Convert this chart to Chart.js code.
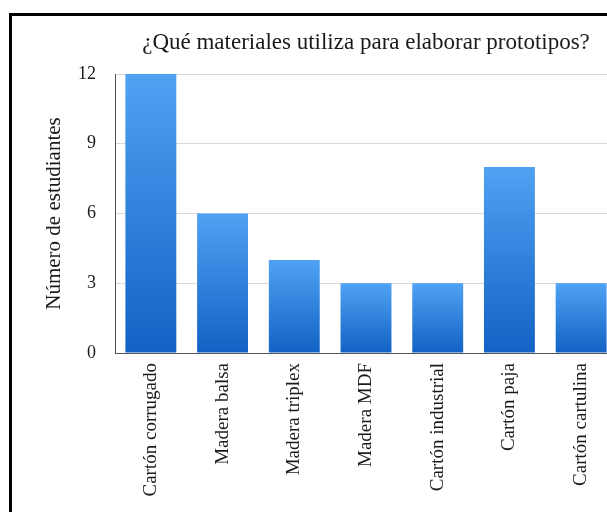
<!DOCTYPE html>
<html lang="es">
<head>
<meta charset="utf-8">
<title>Materiales para prototipos</title>
<script src="https://cdn.jsdelivr.net/npm/chart.js@4/dist/chart.umd.min.js"></script>
<style>
    html, body { margin: 0; padding: 0; background: #fff; overflow: hidden; }
    body { width: 607px; height: 512px; position: relative; }
    /* marco negro: solo borde superior e izquierdo */
    #marco {
        position: absolute; left: 9px; top: 13px; right: -20px; bottom: -20px;
        border-left: 3px solid #000; border-top: 3px solid #000;
    }
    #wrap { position: absolute; left: 12px; top: 16px; width: 605px; height: 496px; }
</style>
</head>
<body>
<div id="marco"></div>
<div id="wrap"><canvas id="materialesChart"></canvas></div>
<script>
// datos de la encuesta
const categorias = ['Cartón corrugado', 'Madera balsa', 'Madera triplex', 'Madera MDF', 'Cartón industrial', 'Cartón paja', 'Cartón cartulina'];
const estudiantes = [12, 6, 4, 3, 3, 8, 3];
const ticksY = [0, 3, 6, 9, 12];

const titulo = '¿Qué materiales utiliza para elaborar prototipos?';
const tituloEje = 'Número de estudiantes';

const serif = "'Liberation Serif', 'DejaVu Serif', serif";
const azulClaro = '#4fa2f3';
const azulOscuro = '#1262c4';

// degradado vertical propio de cada barra (claro arriba, oscuro abajo)
function degradadoBarra(ctx) {
    const chart = ctx.chart;
    const y = chart.scales.y;
    if (!chart.chartArea || !y || ctx.raw == null) return azulClaro;
    const top = y.getPixelForValue(ctx.raw);
    const bottom = y.getPixelForValue(0);
    const g = chart.ctx.createLinearGradient(0, top, 0, bottom);
    g.addColorStop(0, azulClaro);
    g.addColorStop(1, azulOscuro);
    return g;
}

window.addEventListener('DOMContentLoaded', () => {
    const ctx = document.getElementById('materialesChart').getContext('2d');
    new Chart(ctx, {
        type: 'bar',
        data: {
            labels: categorias,
            datasets: [{
                label: tituloEje,
                data: estudiantes,
                backgroundColor: degradadoBarra,
                borderWidth: 0,
                categoryPercentage: 1,
                barPercentage: 0.71
            }]
        },
        options: {
            responsive: true,
            maintainAspectRatio: false,
            animation: false,
            layout: { padding: 0 },
            plugins: {
                legend: { display: false },
                tooltip: { enabled: false },
                title: {
                    display: true,
                    text: titulo,
                    fullSize: false,
                    color: '#1a1a1a',
                    font: { family: serif, size: 23, weight: 'normal', lineHeight: 1.2 },
                    padding: { top: 13, bottom: 17.4 }
                }
            },
            scales: {
                x: {
                    grid: { display: false, drawTicks: false },
                    border: { display: true, color: '#555', width: 1 },
                    ticks: {
                        color: '#1a1a1a',
                        font: { family: serif, size: 19 },
                        minRotation: 90,
                        maxRotation: 90,
                        autoSkip: false,
                        padding: 10
                    },
                    afterFit: s => { s.height = 159; }
                },
                y: {
                    min: 0,
                    max: 12,
                    afterBuildTicks: s => { s.ticks = ticksY.map(v => ({ value: v })); },
                    grid: { color: '#d8d8d8', drawTicks: false },
                    border: { display: true, color: '#555', width: 1 },
                    ticks: {
                        color: '#1a1a1a',
                        font: { family: serif, size: 18 },
                        padding: 19
                    },
                    title: {
                        display: true,
                        text: tituloEje,
                        color: '#1a1a1a',
                        font: { family: serif, size: 21 },
                        padding: { top: 30, bottom: 0 }
                    },
                    afterFit: s => { s.width = 103; }
                }
            }
        }
    });
});
</script>
</body>
</html>
